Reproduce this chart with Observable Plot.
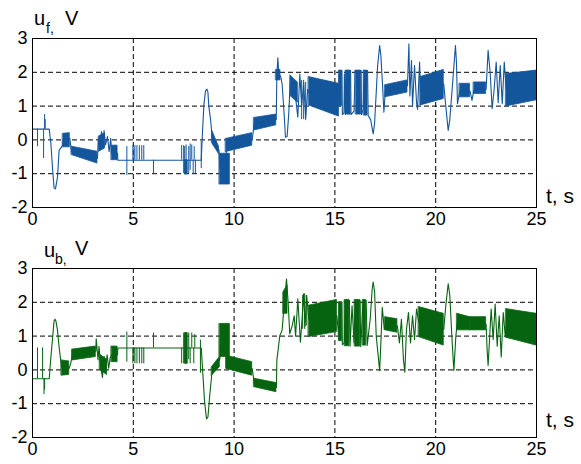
<!DOCTYPE html>
<html>
<head>
<meta charset="utf-8">
<script src="https://cdn.jsdelivr.net/npm/d3@7"></script>
<script src="https://cdn.jsdelivr.net/npm/@observablehq/plot@0.6"></script>
<style>
  html, body { margin: 0; padding: 0; background: #fff; }
  #wrap { position: relative; width: 581px; height: 464px; background: #fff; overflow: hidden; }
  .panel { position: absolute; left: 0; }
  #labels { position: absolute; left: 0; top: 0; pointer-events: none; }
  #labels text { font-family: "Liberation Sans", Arial, sans-serif; fill: #000; }
</style>
</head>
<body>
<div id="wrap">
  <div id="top" class="panel" style="top:0px"></div>
  <div id="bottom" class="panel" style="top:232px"></div>
  <svg id="labels" width="581" height="464">
    <text x="34" y="25" font-size="20">u</text>
    <text x="46" y="33" font-size="14">f,</text>
    <text x="65" y="25" font-size="20">V</text>
    <text x="546" y="203" font-size="21">t, s</text>
    <text x="44" y="257" font-size="20">u</text>
    <text x="55" y="264" font-size="14">b,</text>
    <text x="75" y="255" font-size="20">V</text>
    <text x="546" y="427" font-size="21">t, s</text>
  </svg>
</div>
<script>
// ---- axis ticks / grid ----
const xTicks = [0, 5, 10, 15, 20, 25];
const yTicks = [-2, -1, 0, 1, 2, 3];
const xGrid = [5, 10, 15, 20];
const yGrid = [-1, 0, 1, 2];

// ---- u_f (top, blue): thin trace [t, V] ----
const ufLine = [
  [0,0.32],[0.83,0.32],[0.91,-0.1],[1.0,-0.9],[1.07,-1.42],[1.14,-1.45],[1.24,-1.1],[1.32,-0.31],[1.49,-0.17],[1.52,0.0],
  [1.85,0.05],[1.9,-0.2],[1.95,-0.35],[3.22,-0.55],[3.28,0.05],[3.35,-0.3],[3.42,0.25],[3.5,-0.25],[3.55,0.28],[3.62,-0.15],
  [3.72,0.1],[3.8,-0.35],[3.88,0.05],[3.93,-0.4],[4.22,-0.4],[4.23,-0.6],[8.37,-0.6],[8.42,0.08],[8.5,1.02],[8.58,1.45],
  [8.65,1.5],[8.7,1.42],[8.75,0.97],[8.83,0.62],[8.91,0.1],[9.25,-0.3],[9.3,-0.85],[9.6,-0.85],[9.62,-0.1],[10.9,0.02],
  [11.0,0.5],[12.09,0.6],[12.12,1.9],[12.17,2.43],[12.22,1.9],[12.3,1.9],[12.38,1.66],[12.47,0.87],[12.55,0.08],[12.63,0.1],
  [12.71,0.77],[12.8,1.9],[12.9,1.4],[12.98,1.75],[13.06,1.2],[13.16,0.67],[13.26,1.95],[13.35,1.0],[13.45,1.7],[13.55,0.65],
  [13.65,1.5],[13.71,1.4],[15.2,1.2],[15.22,2.05],[15.35,2.05],[15.37,0.75],[15.45,0.8],[15.47,1.95],[15.52,0.75],[15.55,2.05],
  [15.78,2.05],[15.8,0.75],[15.95,0.85],[16.0,2.05],[16.3,2.05],[16.32,0.75],[16.4,0.9],[16.45,2.05],[16.62,2.05],[16.65,0.72],
  [16.77,0.6],[16.9,0.18],[16.97,0.5],[17.12,2.2],[17.22,2.79],[17.28,2.5],[17.35,1.76],[17.43,0.82],[17.5,1.45],[18.6,1.6],
  [18.67,2.84],[18.72,1.3],[18.8,2.35],[18.85,1.0],[18.95,2.2],[19.05,1.1],[19.1,0.9],[19.2,2.3],[19.25,1.45],[20.4,1.65],
  [20.5,1.0],[20.62,0.28],[20.7,0.6],[20.88,2.0],[20.98,2.79],[21.03,2.3],[21.08,1.07],[21.2,1.45],[21.7,1.45],[21.8,1.17],
  [21.9,1.5],[22.5,1.5],[22.6,2.65],[22.7,2.0],[22.8,0.92],[22.9,1.5],[23.0,2.3],[23.1,1.1],[23.2,2.2],[23.3,1.07],
  [23.4,2.3],[23.5,1.5],[25,1.6]
];
// dense oscillation envelopes: [t0, t1, lo0, hi0, lo1, hi1]
const ufBands = [
  [1.52,1.85,-0.22,0.18,-0.22,0.2],
  [1.95,3.22,-0.45,-0.2,-0.7,-0.35],
  [3.3,3.6,-0.35,0.1,-0.25,0.2],
  [3.93,4.22,-0.6,-0.17,-0.6,-0.17],
  [7.58,7.7,-1.02,-0.6,-1.02,-0.6],
  [8.91,9.25,-0.1,0.28,-0.42,-0.2],
  [9.29,9.79,-1.32,-0.41,-1.32,-0.41],
  [9.6,10.9,-0.36,0.03,-0.17,0.2],
  [11.0,12.09,0.28,0.65,0.43,0.75],
  [12.09,12.3,1.76,2.07,1.76,2.07],
  [12.8,13.16,1.3,1.9,1.1,1.7],
  [13.71,15.2,1.02,1.86,0.69,1.66],
  [15.22,15.35,1.0,2.05,1.0,2.05],
  [15.55,15.78,0.75,2.05,0.75,2.05],
  [16.05,16.3,0.75,2.05,0.75,2.05],
  [16.45,16.62,0.72,2.05,0.72,2.05],
  [17.5,18.6,1.26,1.62,1.4,1.76],
  [19.25,20.4,1.02,1.86,1.21,2.07],
  [21.2,21.7,1.26,1.66,1.26,1.66],
  [21.9,22.5,1.36,1.7,1.36,1.7],
  [23.5,25,0.99,1.95,1.17,2.05]
];
// switching spikes: [t, lo, hi]
const ufSpikes = [
  [0.25,-0.2,0.32],[0.55,-0.55,0.32],[0.6,0.32,0.75],[0.63,0.32,0.6],
  [4.68,-1.05,-0.2],[4.98,-0.6,-0.17],[5.03,-0.6,-0.25],[5.08,-0.6,-0.17],[5.18,-0.6,-0.17],[5.3,-0.6,-0.17],
  [5.42,-0.6,-0.17],[5.52,-0.6,-0.17],[6.0,-1.0,-0.6],[7.4,-0.6,-0.17],[7.5,-1.0,-0.17],[7.55,-1.0,-0.2],
  [7.62,-1.0,-0.15],[7.75,-1.0,-0.2],[7.82,-0.9,-0.12],[7.9,-0.6,-0.15],[7.97,-1.0,-0.6],[8.02,-0.6,-0.2],
  [8.08,-1.0,-0.6],[8.37,-0.85,-0.05],
  [13.35,0.6,1.76],[13.45,0.6,1.76],[13.55,0.57,1.7]
];

// ---- u_b (bottom, green) ----
const ubLine = [
  [0,-0.26],[0.83,-0.26],[0.9,0.3],[1.0,0.97],[1.07,1.45],[1.12,1.5],[1.16,1.45],[1.24,1.17],[1.32,0.67],[1.4,0.28],
  [1.45,0.05],[1.82,0.05],[1.9,0.2],[1.98,0.45],[3.14,0.55],[3.16,0.92],[3.25,0.3],[3.3,0.7],[3.38,0.1],[3.47,-0.22],
  [3.55,0.4],[3.62,-0.05],[3.7,0.45],[3.78,0.05],[3.85,0.35],[3.93,0.45],[4.22,0.45],[4.23,0.65],[8.37,0.65],[8.47,-0.31],
  [8.53,-0.9],[8.63,-1.45],[8.7,-1.4],[8.8,-0.7],[8.9,-0.1],[9.29,0.3],[9.32,0.9],[9.62,0.9],[9.65,0.2],[10.9,0.03],
  [11.0,-0.4],[12.1,-0.52],[12.12,0.28],[12.27,1.02],[12.38,1.17],[12.5,2.05],[12.6,2.69],[12.68,2.0],[12.76,1.07],[12.88,1.3],
  [12.98,1.6],[13.05,1.0],[13.16,2.1],[13.29,0.82],[13.37,1.5],[13.45,2.25],[13.52,1.3],[13.6,2.2],[13.71,1.5],[15.1,1.6],
  [15.2,0.9],[15.22,2.0],[15.35,2.0],[15.37,0.75],[15.47,0.8],[15.5,2.05],[15.72,2.05],[15.75,0.7],[15.85,1.9],[15.95,0.8],
  [16.0,2.05],[16.25,2.05],[16.28,0.69],[16.4,2.05],[16.55,2.05],[16.6,0.72],[16.75,1.5],[16.85,2.4],[16.9,2.6],[16.97,2.3],
  [17.05,1.0],[17.22,-0.02],[17.28,0.8],[17.35,1.85],[17.45,1.2],[17.5,1.35],[18.1,1.3],[18.2,0.8],[18.3,1.5],[18.4,0.3],
  [18.47,-0.07],[18.55,1.2],[18.65,1.7],[18.75,0.8],[18.85,1.6],[18.95,0.9],[19.05,1.8],[19.17,1.4],[20.4,1.2],[20.5,1.9],
  [20.62,2.55],[20.7,2.2],[20.8,1.0],[20.9,-0.02],[21.0,1.0],[21.07,1.4],[22.5,1.35],[22.55,0.6],[22.6,0.13],[22.68,1.0],
  [22.75,1.8],[22.85,0.9],[22.95,1.95],[23.05,0.7],[23.15,1.6],[23.25,0.38],[23.35,1.7],[23.45,1.0],[23.5,1.3],[25,1.2]
];
const ubBands = [
  [1.45,1.82,-0.17,0.28,-0.15,0.25],
  [1.98,3.14,0.28,0.6,0.38,0.69],
  [3.35,3.7,0.0,0.45,-0.15,0.3],
  [3.93,4.22,0.23,0.69,0.23,0.69],
  [7.58,7.7,0.18,1.09,0.18,1.09],
  [8.9,9.29,-0.17,0.08,0.08,0.38],
  [9.29,9.79,0.38,1.36,0.38,1.36],
  [9.62,10.9,0.03,0.42,-0.17,0.23],
  [11.0,12.1,-0.51,-0.26,-0.66,-0.39],
  [12.45,12.65,1.66,2.3,1.66,2.5],
  [13.71,15.1,0.97,1.9,1.12,2.07],
  [15.22,15.35,0.85,2.0,0.85,2.0],
  [15.5,15.72,0.7,2.07,0.7,2.07],
  [16.0,16.25,0.69,2.07,0.69,2.07],
  [16.4,16.55,0.72,2.07,0.72,2.07],
  [17.5,18.1,1.17,1.56,1.1,1.5],
  [19.17,20.4,0.97,1.86,0.72,1.66],
  [21.07,21.7,1.17,1.66,1.17,1.56],
  [21.7,22.5,1.17,1.56,1.17,1.56],
  [23.5,25,0.95,1.8,0.72,1.66]
];
const ubSpikes = [
  [0.25,-0.26,0.65],[0.5,-0.26,0.65],[0.57,-0.73,-0.26],[0.6,-0.6,-0.26],
  [4.68,0.23,1.12],[4.98,0.18,0.65],[5.03,0.25,0.65],[5.08,0.18,0.65],[5.18,0.18,0.65],[5.3,0.18,0.65],
  [5.42,0.18,0.65],[5.52,0.18,0.65],[6.0,0.65,1.09],[7.4,0.18,0.65],[7.5,0.18,1.09],[7.55,0.2,1.09],
  [7.62,0.18,1.05],[7.75,0.3,1.09],[7.82,0.18,0.65],[7.9,0.65,1.09],[8.0,0.18,0.65],[8.05,0.65,1.05],
  [8.33,-0.1,0.88],
  [13.4,1.2,2.2],[13.5,1.2,2.25],[13.58,1.3,2.2]
];

const blue = "#13569c";
const green = "#066410";

function bandRows(bands) {
  return bands.flatMap(([t0, t1, lo0, hi0, lo1, hi1], i) => [
    {b: i, t: t0, lo: lo0, hi: hi0},
    {b: i, t: t1, lo: lo1, hi: hi1}
  ]);
}

function panel(line, bands, spikes, color, marginTop, marginBottom) {
  return Plot.plot({
    width: 581,
    height: 232,
    marginLeft: 32,
    marginRight: 45,
    marginTop,
    marginBottom,
    style: {fontFamily: "'Liberation Sans', Arial, sans-serif", fontSize: "18px", color: "#000", background: "transparent", overflow: "visible"},
    x: {domain: [0, 25], ticks: xTicks, tickSize: 0, tickPadding: 5, label: null, tickFormat: d => String(d)},
    y: {domain: [-2, 3], ticks: yTicks, tickSize: 0, tickPadding: 5, label: null, tickFormat: d => String(d)},
    marks: [
      Plot.ruleX(xGrid, {stroke: "#000", strokeWidth: 1, strokeDasharray: "5,3"}),
      Plot.ruleY(yGrid, {stroke: "#000", strokeWidth: 1, strokeDasharray: "5,3"}),
      Plot.areaY(bandRows(bands), {x: "t", y1: "lo", y2: "hi", z: "b", fill: color, stroke: color, strokeWidth: 0.8}),
      Plot.line(line, {x: d => d[0], y: d => d[1], stroke: color, strokeWidth: 1.1}),
      Plot.ruleX(spikes, {x: d => d[0], y1: d => d[1], y2: d => d[2], stroke: color, strokeWidth: 1}),
      Plot.frame({stroke: "#000", strokeWidth: 1})
    ]
  });
}

document.getElementById("top").append(panel(ufLine, ufBands, ufSpikes, blue, 38, 25));
document.getElementById("bottom").append(panel(ubLine, ubBands, ubSpikes, green, 36, 27));
</script>
</body>
</html>
